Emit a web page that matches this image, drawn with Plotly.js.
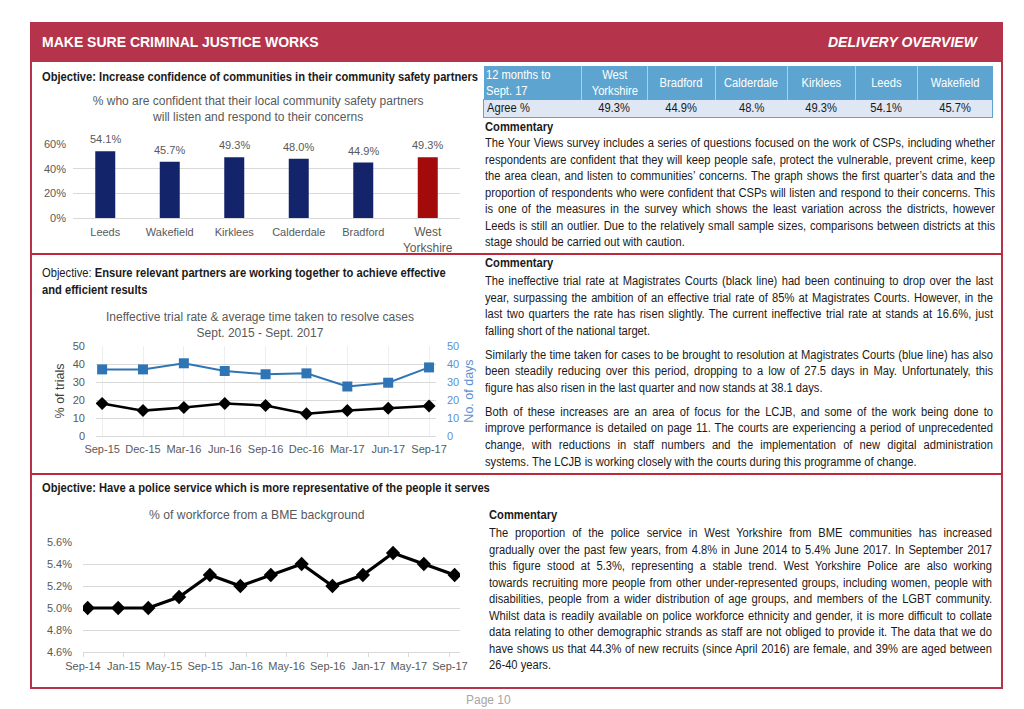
<!DOCTYPE html>
<html>
<head>
<meta charset="utf-8">
<script src="https://cdn.plot.ly/plotly-3.0.1.min.js"></script>
<style>
  html, body { margin: 0; padding: 0; background: #fff; }
  body { width: 1024px; height: 709px; position: relative; overflow: hidden;
         font-family: "Liberation Sans", Arial, sans-serif; color: #1a1a1a; }
  .abs { position: absolute; }
  .line { position: absolute; font-size: 12px; line-height: 16.5px; height: 16.5px; white-space: nowrap; transform-origin: 0 0; }
  .just { text-align: justify; text-align-last: justify; }
  table.agree { position: absolute; left: 483px; top: 66px; width: 509px; border-collapse: collapse; table-layout: fixed;
                font-size: 12px; font-family: "Liberation Sans", Arial, sans-serif; }
  table.agree th { background: #5DA5D0; color: #fff; font-weight: normal; height: 33px; padding: 0 2px; line-height: 16px;
                   border-left: 1px solid #A9D0E8; vertical-align: middle; }
  table.agree td { background: #DEE7F3; color: #1a1a1a; height: 17px; padding: 0 3px; line-height: 15px; text-align: center;
                   border-top: 1px solid #5DA5D0; border-bottom: 1px solid #5DA5D0; }
  table.agree td:first-child { border-left: 1px solid #5DA5D0; text-align: left; }
  table.agree td:last-child { border-right: 1px solid #5DA5D0; }
  table.agree th:first-child { text-align: left; border-left: none; }
  .sq { display: inline-block; transform-origin: 50% 50%; white-space: nowrap; }
</style>
</head>
<body>
<div id="page"></div>
<div id="chart1" class="abs" style="left:30px;top:85px;width:450px;height:170px;"></div>
<div id="chart2" class="abs" style="left:30px;top:300px;width:450px;height:174px;"></div>
<div id="chart3" class="abs" style="left:30px;top:500px;width:450px;height:188px;"></div>
<script>
// ---------------- DATA ----------------
const districts = ['Leeds', 'Wakefield', 'Kirklees', 'Calderdale', 'Bradford', 'West<br>Yorkshire'];
const confidencePct = [54.1, 45.7, 49.3, 48.0, 44.9, 49.3];

const tableHeader = ['12 months to<br>Sept. 17', 'West<br>Yorkshire', 'Bradford', 'Calderdale', 'Kirklees', 'Leeds', 'Wakefield'];
const tableRowLabel = 'Agree %';
const tableAgree = ['49.3%', '44.9%', '48.%', '49.3%', '54.1%', '45.7%'];

const quarters = ['Sep-15', 'Dec-15', 'Mar-16', 'Jun-16', 'Sep-16', 'Dec-16', 'Mar-17', 'Jun-17', 'Sep-17'];
const ineffectiveTrialRate = [18.1, 14.1, 15.9, 18.0, 16.9, 12.4, 14.1, 15.4, 16.6];
const daysToResolve = [37.0, 37.0, 40.4, 36.1, 34.3, 34.8, 27.5, 29.6, 38.1];

const bmeDates = ['2014-09-15', '2014-12-15', '2015-03-15', '2015-06-15', '2015-09-15', '2015-12-15', '2016-03-15',
                  '2016-06-15', '2016-09-15', '2016-12-15', '2017-03-15', '2017-06-15', '2017-09-15'];
const bmeShare = [5.0, 5.0, 5.0, 5.1, 5.3, 5.2, 5.3, 5.4, 5.2, 5.3, 5.5, 5.4, 5.3];

// ---------------- TEXT ----------------
const commentary1 = [
  ['The Your Views survey includes a series of questions focused on the work of CSPs, including whether',
   'respondents are confident that they will keep people safe, protect the vulnerable, prevent crime, keep',
   'the area clean, and listen to communities\u2019 concerns. The graph shows the first quarter\u2019s data and the',
   'proportion of respondents who were confident that CSPs will listen and respond to their concerns. This',
   'is one of the measures in the survey which shows the least variation across the districts, however',
   'Leeds is still an outlier. Due to the relatively small sample sizes, comparisons between districts at this',
   'stage should be carried out with caution.']
];
const commentary2 = [
  ['The ineffective trial rate at Magistrates Courts (black line) had been continuing to drop over the last',
   'year, surpassing the ambition of an effective trial rate of 85% at Magistrates Courts. However, in the',
   'last two quarters the rate has risen slightly. The current ineffective trial rate at stands at 16.6%, just',
   'falling short of the national target.'],
  ['Similarly the time taken for cases to be brought to resolution at Magistrates Courts (blue line) has also',
   'been steadily reducing over this period, dropping to a low of 27.5 days in May. Unfortunately, this',
   'figure has also risen in the last quarter and now stands at 38.1 days.'],
  ['Both of these increases are an area of focus for the LCJB, and some of the work being done to',
   'improve performance is detailed on page 11. The courts are experiencing a period of unprecedented',
   'change, with reductions in staff numbers and the implementation of new digital administration',
   'systems. The LCJB is working closely with the courts during this programme of change.']
];
const commentary3 = [
  ['The proportion of the police service in West Yorkshire from BME communities has increased',
   'gradually over the past few years, from 4.8% in June 2014 to 5.4% June 2017. In September 2017',
   'this figure stood at 5.3%, representing a stable trend. West Yorkshire Police are also working',
   'towards recruiting more people from other under-represented groups, including women, people with',
   'disabilities, people from a wider distribution of age groups, and members of the LGBT community.',
   'Whilst data is readily available on police workforce ethnicity and gender, it is more difficult to collate',
   'data relating to other demographic strands as staff are not obliged to provide it. The data that we do',
   'have shows us that 44.3% of new recruits (since April 2016) are female, and 39% are aged between',
   '26-40 years.']
];

// ---------------- PAGE FRAME & TEXT ----------------
const RED = '#B5344C';
const page = document.getElementById('page');
function box(l, t, w, h, bg) {
  const d = document.createElement('div');
  d.className = 'abs';
  Object.assign(d.style, {left: l + 'px', top: t + 'px', width: w + 'px', height: h + 'px', background: bg});
  page.appendChild(d); return d;
}
function txt(l, t, html, css, sx) {
  const d = document.createElement('div');
  d.className = 'abs';
  d.innerHTML = html;
  Object.assign(d.style, {left: l + 'px', top: t + 'px', whiteSpace: 'nowrap', transformOrigin: '0 0',
                          transform: 'scaleX(' + (sx || 1) + ')'}, css || {});
  page.appendChild(d); return d;
}
box(30, 22, 973, 40, RED);
box(30, 22, 2, 667, RED);
box(1001, 22, 2, 667, RED);
box(30, 253, 973, 2, '#C0283C');
box(30, 473, 973, 2, '#C0283C');
box(30, 687, 973, 2, RED);

txt(42, 34, 'MAKE SURE CRIMINAL JUSTICE WORKS', {color: '#fff', fontWeight: 'bold', fontSize: '14px', lineHeight: '17px'});
const dov = txt(0, 34, 'DELIVERY OVERVIEW', {color: '#fff', fontWeight: 'bold', fontStyle: 'italic', fontSize: '14px', lineHeight: '17px'});
dov.style.left = (977 - dov.offsetWidth) + 'px';

const OBJ_SX = 0.93;
txt(42, 69, '<b>Objective: Increase confidence of communities in their community safety partners</b>', {fontSize: '12px', lineHeight: '16px'}, OBJ_SX);
txt(42, 265, 'Objective: <b>Ensure relevant partners are working together to achieve effective</b>', {fontSize: '12px', lineHeight: '16px'}, OBJ_SX);
txt(42, 282, '<b>and efficient results</b>', {fontSize: '12px', lineHeight: '16px'}, OBJ_SX);
txt(42, 480, '<b>Objective: Have a police service which is more representative of the people it serves</b>', {fontSize: '12px', lineHeight: '16px'}, OBJ_SX);

function naturalWidth(s) {
  const sp = document.createElement('span');
  sp.style.cssText = 'position:absolute;visibility:hidden;white-space:nowrap;font-size:12px;';
  sp.textContent = s; document.body.appendChild(sp);
  const w = sp.getBoundingClientRect().width; sp.remove(); return w;
}
function commentary(left, headTop, firstTop, width, paras, gap) {
  txt(left, headTop, 'Commentary', {fontWeight: 'bold', fontSize: '12px', lineHeight: '16px'}, OBJ_SX);
  let maxW = 0;
  paras.forEach(lines => lines.forEach(ln => { maxW = Math.max(maxW, naturalWidth(ln)); }));
  const sx = Math.min(0.93, width / (maxW + 2));
  let top = firstTop;
  paras.forEach(lines => {
    lines.forEach((ln, li) => {
      const d = document.createElement('div');
      d.className = 'line' + (li < lines.length - 1 ? ' just' : '');
      d.style.left = left + 'px'; d.style.top = top + 'px'; d.style.width = (width / sx) + 'px';
      d.style.transform = 'scaleX(' + sx + ')';
      d.textContent = ln;
      page.appendChild(d);
      top += 16.55;
    });
    top += gap;
  });
}
commentary(485, 119, 135, 510, commentary1, 0);
commentary(485, 255, 273, 508, commentary2, 7.5);
commentary(489, 507, 525, 503, commentary3, 0);

txt(466, 693, 'Page 10', {color: '#A6A6A6', fontSize: '12px', lineHeight: '14px'});

// ---------------- TABLE (built from the arrays) ----------------
(function buildTable() {
  const colW = [98, 66, 68, 72, 68, 62, 75];
  const t = document.createElement('table'); t.className = 'agree';
  const cg = document.createElement('colgroup');
  colW.forEach(w => { const c = document.createElement('col'); c.style.width = w + 'px'; cg.appendChild(c); });
  t.appendChild(cg);
  const hr = document.createElement('tr');
  tableHeader.forEach(h => { const th = document.createElement('th'); th.innerHTML = '<span class="sq" style="transform:scaleX(0.93)">' + h + '</span>'; hr.appendChild(th); });
  const dr = document.createElement('tr');
  [tableRowLabel].concat(tableAgree).forEach(v => { const td = document.createElement('td'); td.innerHTML = '<span class="sq" style="transform:scaleX(0.93)">' + v + '</span>'; dr.appendChild(td); });
  t.appendChild(hr); t.appendChild(dr);
  page.appendChild(t);
  t.querySelector('th span').style.transformOrigin = '0 50%';
  t.querySelector('td span').style.transformOrigin = '0 50%';
})();

// ---------------- CHARTS ----------------
const FONT = '"Liberation Sans", Arial, sans-serif';
const GREY = '#595959';
const GRID = '#D9D9D9';
const cfg = {displayModeBar: false, staticPlot: true};

// Chart 1: bars (value labels placed through the axis scales)
const navy = '#14246B', darkRed = '#A30A0A';
Plotly.newPlot('chart1', [{
  type: 'bar', x: districts, y: confidencePct,
  marker: {color: districts.map((d, i) => i === districts.length - 1 ? darkRed : navy)},
  hoverinfo: 'none'
}], {
  width: 450, height: 170, margin: {l: 43, r: 20, t: 59, b: 37},
  paper_bgcolor: 'rgba(0,0,0,0)', plot_bgcolor: 'rgba(0,0,0,0)',
  font: {family: FONT, size: 11, color: GREY},
  title: {text: '% who are confident that their local community safety partners<br>will listen and respond to their concerns',
          font: {family: FONT, size: 12.2, color: GREY}, x: 0.507, xref: 'container', y: 0.88, yref: 'container', yanchor: 'middle'},
  bargap: 0.69,
  xaxis: {showline: false, ticks: '', ticklabelstandoff: 6, tickfont: {size: 11, color: GREY}},
  yaxis: {range: [0, 60], tick0: 0, dtick: 20, ticksuffix: '%', gridcolor: GRID, zeroline: true, zerolinecolor: GRID,
          showline: false, ticklabelstandoff: 6, tickfont: {size: 11, color: GREY}},
  annotations: districts.map((d, i) => ({
    x: d, y: confidencePct[i], xref: 'x', yref: 'y', text: confidencePct[i].toFixed(1) + '%',
    showarrow: false, yanchor: 'bottom', yshift: 4, font: {family: FONT, size: 11, color: GREY}
  })),
  showlegend: false
}, cfg);

// Chart 2: dual axis lines
const lineBlue = '#2F75B5', tickBlue = '#5E8FD2';
Plotly.newPlot('chart2', [{
  type: 'scatter', mode: 'lines+markers', x: quarters, y: ineffectiveTrialRate, name: 'Ineffective trial rate',
  line: {color: '#000', width: 2.5}, marker: {symbol: 'diamond', size: 10, color: '#000'}, hoverinfo: 'none'
}, {
  type: 'scatter', mode: 'lines+markers', x: quarters, y: daysToResolve, yaxis: 'y2', name: 'Days',
  line: {color: lineBlue, width: 2}, marker: {symbol: 'square', size: 10, color: lineBlue}, hoverinfo: 'none'
}], {
  width: 450, height: 174, margin: {l: 66, r: 44, t: 46, b: 38},
  paper_bgcolor: 'rgba(0,0,0,0)', plot_bgcolor: 'rgba(0,0,0,0)',
  font: {family: FONT, size: 11, color: GREY},
  title: {text: 'Ineffective trial rate & average time taken to resolve cases<br>Sept. 2015 - Sept. 2017',
          font: {family: FONT, size: 11.8, color: GREY}, x: 0.511, xref: 'container', y: 0.879, yref: 'container', yanchor: 'middle'},
  xaxis: {type: 'category', range: [-0.15, 8.17], showline: true, linecolor: GRID, ticks: '', ticklabelstandoff: 3,
          tickfont: {size: 11, color: GREY}},
  yaxis: {range: [0, 50], dtick: 10, gridcolor: GRID, zeroline: false, showline: false, ticklabelstandoff: 10,
          title: {text: '% of trials', font: {size: 12.5, color: '#404040'}, standoff: 5}, tickfont: {size: 11, color: GREY}},
  yaxis2: {range: [0, 50], dtick: 10, overlaying: 'y', side: 'right', showgrid: false, zeroline: false, showline: false,
           ticklabelstandoff: 10,
           title: {text: 'No. of days', font: {size: 12.5, color: tickBlue}, standoff: 5}, tickfont: {size: 11, color: tickBlue}},
  showlegend: false
}, cfg);

// Chart 3: BME share
Plotly.newPlot('chart3', [{
  type: 'scatter', mode: 'lines+markers', x: bmeDates, y: bmeShare,
  line: {color: '#000', width: 3.2}, marker: {symbol: 'diamond', size: 11, color: '#000'}, hoverinfo: 'none'
}], {
  width: 450, height: 188, margin: {l: 53, r: 20, t: 42, b: 36},
  paper_bgcolor: 'rgba(0,0,0,0)', plot_bgcolor: 'rgba(0,0,0,0)',
  font: {family: FONT, size: 11, color: GREY},
  title: {text: '% of workforce from a BME background',
          font: {family: FONT, size: 12.2, color: GREY}, x: 0.504, xref: 'container', y: 0.92, yref: 'container', yanchor: 'middle'},
  xaxis: {type: 'date', range: ['2014-09-01', '2017-10-01'], tick0: '2014-09-01', dtick: 'M4', tickformat: '%b-%y',
          showline: true, linecolor: GRID, ticks: 'outside', ticklen: 4, tickcolor: GRID, showgrid: false,
          tickfont: {size: 11, color: GREY}},
  yaxis: {range: [4.6, 5.6], dtick: 0.2, tickformat: '.1f', ticksuffix: '%', gridcolor: GRID, zeroline: false, showline: false,
          ticklabelstandoff: 10, tickfont: {size: 11, color: GREY}},
  showlegend: false
}, cfg);
</script>
</body>
</html>
